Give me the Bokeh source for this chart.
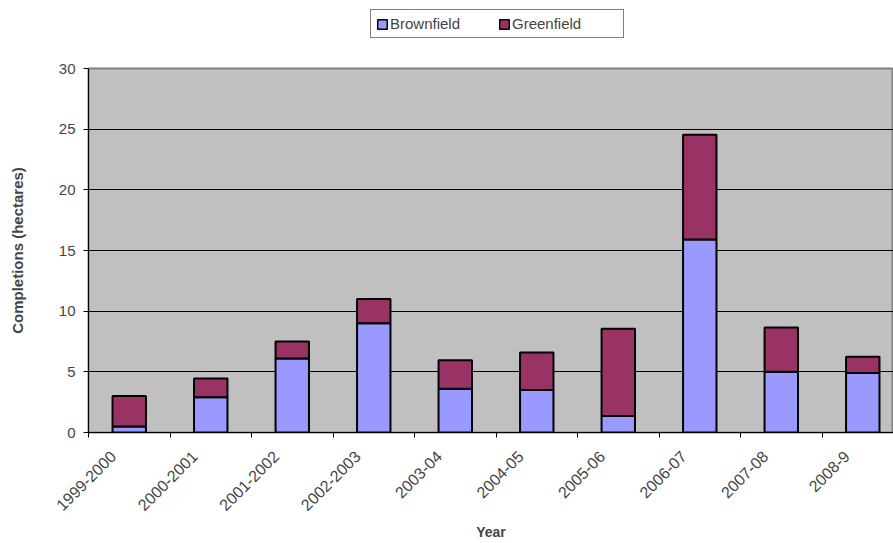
import math
from bokeh.plotting import figure
from bokeh.layouts import column
from bokeh.models import Range1d, FixedTicker, Legend, LegendItem, ColumnDataSource
from bokeh.embed import file_html
from bokeh.resources import INLINE

years = ["1999-2000", "2000-2001", "2001-2002", "2002-2003", "2003-04",
         "2004-05", "2005-06", "2006-07", "2007-08", "2008-9"]
brownfield = [0.5, 2.9, 6.1, 9.0, 3.6, 3.5, 1.35, 15.9, 5.0, 4.9]
greenfield = [2.5, 1.55, 1.4, 2.0, 2.35, 3.1, 7.2, 8.65, 3.65, 1.35]
series = ["Brownfield", "Greenfield"]
colors = ["#9999FF", "#993366"]
y_ticks = [0, 5, 10, 15, 20, 25, 30]

xpos = list(range(len(years)))
src = ColumnDataSource(dict(x=xpos, Brownfield=brownfield, Greenfield=greenfield))

FONT = "Liberation Sans"
W = 893
TOP_H = 58

# ---- legend strip (frame is aligned with the chart's frame by the column) ----
lg = figure(width=W, height=TOP_H, output_backend="svg", toolbar_location=None,
            x_range=Range1d(-0.5, 9.377), y_range=Range1d(0, 30),
            x_axis_location=None, y_axis_location=None,
            min_border=0, min_border_left=88)
lg.outline_line_color = None
lg.xgrid.grid_line_color = None
lg.ygrid.grid_line_color = None
lg.background_fill_color = "white"
lg_rs = lg.vbar_stack(series, x="x", width=0.41, source=src, color=colors,
                      line_color="black", line_width=1.5)
for r in lg_rs:
    r.visible = False
legend = Legend(items=[LegendItem(label=n, renderers=[r]) for n, r in zip(series, lg_rs)],
                location=(282, 20), orientation="horizontal",
                border_line_color="black", border_line_width=1,
                background_fill_color="white", background_fill_alpha=1,
                inactive_fill_alpha=0,
                glyph_width=12, glyph_height=12,
                label_text_font=FONT, label_text_font_size="15px",
                label_width=106,
                padding=5, spacing=2, margin=0, label_standoff=2)
lg.add_layout(legend, "center")

# ---- main chart ----
p = figure(width=W, height=543 - TOP_H, output_backend="svg", toolbar_location=None,
           x_range=Range1d(-0.5, 9.377), y_range=Range1d(0, 30),
           min_border_left=88, min_border_top=68 - TOP_H, min_border_right=0,
           min_border_bottom=111)

renderers = p.vbar_stack(series, x="x", width=0.41, source=src, color=colors,
                         line_color="black", line_width=2)

p.background_fill_color = "#C0C0C0"
p.border_fill_color = "white"
p.outline_line_color = "#808080"
p.outline_line_width = 2

p.xgrid.grid_line_color = None
p.ygrid.grid_line_color = "black"
p.ygrid.grid_line_width = 1
p.ygrid.ticker = FixedTicker(ticks=y_ticks)

# y axis
p.yaxis.ticker = FixedTicker(ticks=y_ticks)
p.yaxis.axis_label = "Completions (hectares)"
p.yaxis.axis_label_text_font = FONT
p.yaxis.axis_label_text_font_style = "bold"
p.yaxis.axis_label_text_font_size = "15px"
p.yaxis.axis_label_standoff = 30
p.yaxis.major_label_text_font = FONT
p.yaxis.major_label_text_font_size = "15px"
p.yaxis.major_label_standoff = 8
p.yaxis.major_tick_in = 0
p.yaxis.major_tick_out = 5
p.yaxis.minor_tick_line_color = None
p.yaxis.axis_line_color = "black"

# x axis: labels slightly left of category centres, as in the reference
label_pos = [i - 0.2 for i in xpos]
p.xaxis.ticker = FixedTicker(ticks=label_pos, minor_ticks=[i - 0.5 for i in range(len(years) + 1)])
p.xaxis.major_label_overrides = {label_pos[i]: years[i] for i in xpos}
p.xaxis.major_label_orientation = math.pi / 4
p.xaxis.major_label_text_font = FONT
p.xaxis.major_label_text_font_size = "16px"
p.xaxis.major_label_standoff = 16
p.xaxis.major_tick_in = 0
p.xaxis.major_tick_out = 0
p.xaxis.minor_tick_in = 0
p.xaxis.minor_tick_out = 5
p.xaxis.minor_tick_line_color = "black"
p.xaxis.axis_line_color = "black"
p.xaxis.axis_label = "Year"
p.xaxis.axis_label_text_font = FONT
p.xaxis.axis_label_text_font_style = "bold"
p.xaxis.axis_label_text_font_size = "14px"
p.xaxis.axis_label_standoff = 5

layout = column(lg, p, spacing=0)
open("out.html", "w").write(file_html(layout, INLINE))
